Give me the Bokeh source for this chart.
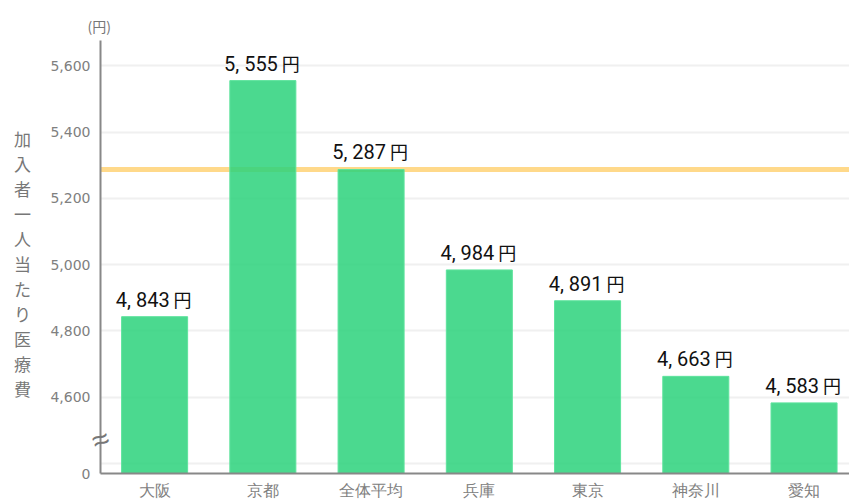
from bokeh.plotting import figure
from bokeh.models import Range1d, FixedTicker, NumeralTickFormatter, Span, Label, ColumnDataSource, Title
from bokeh.core.properties import value
from bokeh.embed import file_html
from bokeh.resources import INLINE

categories = ["大阪", "京都", "全体平均", "兵庫", "東京", "神奈川", "愛知"]
costs = [4843, 5555, 5287, 4984, 4891, 4663, 4583]
average = 5287
y_ticks = [4600, 4800, 5000, 5200, 5400, 5600]
grid_ticks = [4400, 4600, 4800, 5000, 5200, 5400, 5600]
y_title = "加入者一人当たり医療費"
unit = "(円)"
yen = "円"

Y0 = 4370
BREAK = 4473
idx = list(range(len(categories)))
nums = ["{:,}".format(v).replace(",", ", ") for v in costs]
src = ColumnDataSource(dict(x=idx, top=costs, num=nums, yen=[yen] * len(costs)))

p = figure(width=849, height=502, x_range=Range1d(-0.5, 6.42), y_range=Range1d(Y0, 5676),
           output_backend="svg", toolbar_location=None,
           min_border_left=100, min_border_right=0, min_border_top=40, min_border_bottom=22)
p.outline_line_color = None
p.background_fill_color = "white"

p.xgrid.visible = False
p.ygrid.ticker = FixedTicker(ticks=grid_ticks)
p.ygrid.grid_line_color = "#f0f0f0"
p.ygrid.grid_line_width = 2

avg_line = Span(location=average, dimension="width", line_color="#ffd98a", line_width=5, level="underlay")
p.add_layout(avg_line)

p.vbar(x="x", top="top", bottom=0, width=0.61, source=src,
       fill_color="#2cd27b", fill_alpha=0.85, line_color="#5ee39d", line_width=1)

p.text(x="x", y="top", text="num", source=src, x_offset=15, y_offset=-5,
       text_align="right", text_baseline="bottom", text_color="#111111",
       text_font=value("Roboto"), text_font_size="20px")
p.text(x="x", y="top", text="yen", source=src, x_offset=19, y_offset=-5,
       text_align="left", text_baseline="bottom", text_color="#111111",
       text_font=value("Noto Sans CJK JP"), text_font_size="18px")

for ax in (p.xaxis, p.yaxis):
    ax.axis_line_color = "#888888"
    ax.axis_line_width = 2
    ax.major_tick_line_color = None
    ax.minor_tick_line_color = None
    ax.major_label_text_color = "#808080"

p.yaxis.ticker = FixedTicker(ticks=[Y0] + y_ticks)
p.yaxis.formatter = NumeralTickFormatter(format="0,0")
p.yaxis.major_label_overrides = {Y0: "0"}
p.yaxis.major_label_standoff = 4
p.yaxis.major_label_text_font = "DejaVu Sans"
p.yaxis.major_label_text_font_size = "14px"

p.xaxis.ticker = FixedTicker(ticks=idx)
p.xaxis.major_label_overrides = {i: c for i, c in zip(idx, categories)}
p.xaxis.major_label_standoff = 1
p.xaxis.major_label_text_font = "Roboto"
p.xaxis.major_label_text_font_size = "16px"

# unit label above the axis
p.add_layout(Title(text=unit, align="left", offset=-13, text_color="#777777",
                   text_font="Noto Sans CJK JP", text_font_size="14px",
                   text_font_style="normal"), "above")

# axis break mark
p.add_layout(Label(x=-0.5, y=BREAK, text="≈", text_align="center", text_baseline="middle",
                   text_color="#777777", text_font_size="30px", angle=0.35), "left")

# vertical axis title (upright characters, stacked)
p.add_layout(Label(x=-1.22, y=5003, text="\n".join(y_title), text_align="center",
                   text_baseline="middle", text_color="#777777", text_font="Noto Sans CJK JP",
                   text_font_size="17px", text_line_height=1.0), "left")

open("out.html", "w").write(file_html(p, INLINE))
